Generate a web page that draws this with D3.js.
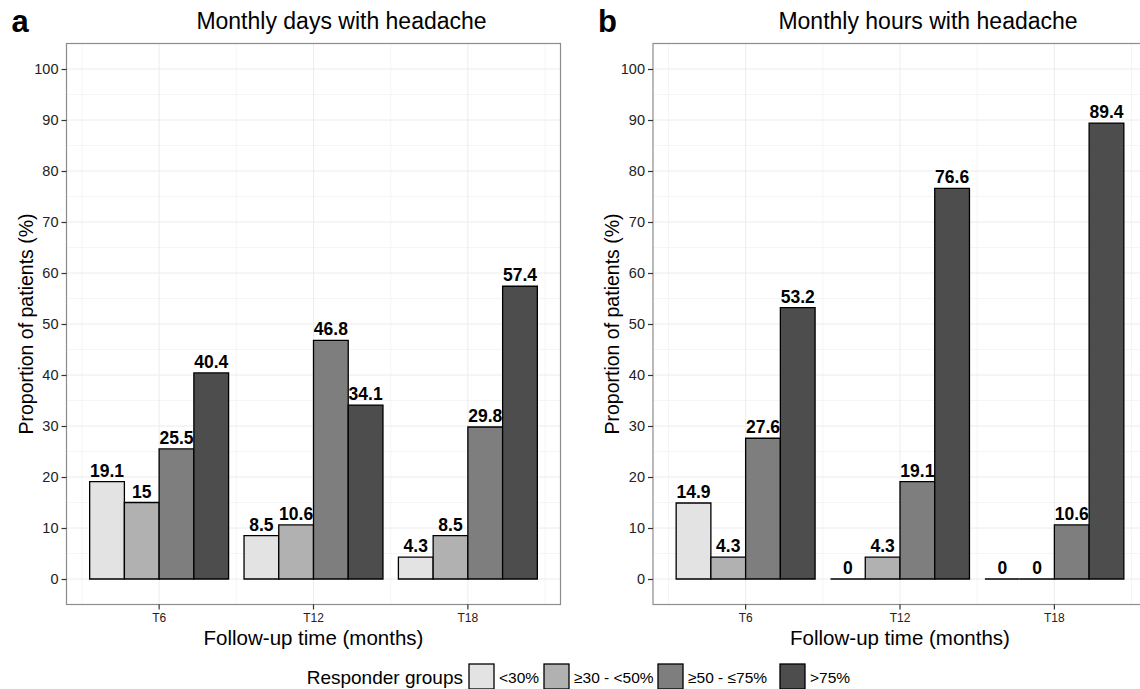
<!DOCTYPE html>
<html>
<head>
<meta charset="utf-8">
<script src="https://cdn.jsdelivr.net/npm/d3@7"></script>
<style>
  body { margin: 0; background: #fff; }
  svg { display: block; font-family: "Liberation Sans", Arial, Helvetica, sans-serif; }
</style>
</head>
<body>
<script>
(function(){

    //data
    var times = ["T6", "T12", "T18"];
    var groups = ["<30%", "≥30 - <50%", "≥50 - ≤75%", ">75%"];
    var daysValues = [
        [19.1, 15, 25.5, 40.4],
        [8.5, 10.6, 46.8, 34.1],
        [4.3, 8.5, 29.8, 57.4]
    ];
    var hoursValues = [
        [14.9, 4.3, 27.6, 53.2],
        [0, 4.3, 19.1, 76.6],
        [0, 0, 10.6, 89.4]
    ];
    var yTicks = [0, 10, 20, 30, 40, 50, 60, 70, 80, 90, 100];
    var yMinor = [5, 15, 25, 35, 45, 55, 65, 75, 85, 95];
    var groupColors = ["#e3e3e3", "#b1b1b1", "#7e7e7e", "#4d4d4d"];

    var width = 1140,
        height = 689;

    var svg = d3.select("body")
        .append("svg")
        .attr("width", width)
        .attr("height", height);

    var panelTop = 43.5,
        panelBottom = 604.5,
        panelWidth = 494;

    //shared y scale, ggplot style expansion of 5 on each side
    var y = d3.scaleLinear()
        .domain([-5, 105])
        .range([panelBottom, panelTop]);

    var color = d3.scaleOrdinal()
        .domain(groups)
        .range(groupColors);

    drawPanel(66.5, "a", "Monthly days with headache", daysValues);
    drawPanel(653, "b", "Monthly hours with headache", hoursValues);
    drawLegend();

    function drawPanel(left, letter, title, values){
        var g = svg.append("g");

        var x = d3.scaleBand()
            .domain(times)
            .range([left, left + panelWidth])
            .paddingInner(0.1)
            .paddingOuter(0.15);

        var xInner = d3.scaleBand()
            .domain(groups)
            .range([0, x.bandwidth()]);

        var step = x.step();

        //background grid, minor first
        g.selectAll(".hMinor")
            .data(yMinor)
            .enter().append("line")
            .attr("x1", left).attr("x2", left + panelWidth)
            .attr("y1", function(d){ return y(d); })
            .attr("y2", function(d){ return y(d); })
            .attr("stroke", "#f5f5f5").attr("stroke-width", 1);

        var vMinor = [x(times[0]) + x.bandwidth() / 2 - step / 2];
        times.forEach(function(t){ vMinor.push(x(t) + x.bandwidth() / 2 + step / 2); });
        g.selectAll(".vMinor")
            .data(vMinor)
            .enter().append("line")
            .attr("x1", function(d){ return d; }).attr("x2", function(d){ return d; })
            .attr("y1", panelTop).attr("y2", panelBottom)
            .attr("stroke", "#f5f5f5").attr("stroke-width", 1);

        g.selectAll(".hMajor")
            .data(yTicks)
            .enter().append("line")
            .attr("x1", left).attr("x2", left + panelWidth)
            .attr("y1", function(d){ return y(d); })
            .attr("y2", function(d){ return y(d); })
            .attr("stroke", "#ececec").attr("stroke-width", 1);

        g.selectAll(".vMajor")
            .data(times)
            .enter().append("line")
            .attr("x1", function(d){ return x(d) + x.bandwidth() / 2; })
            .attr("x2", function(d){ return x(d) + x.bandwidth() / 2; })
            .attr("y1", panelTop).attr("y2", panelBottom)
            .attr("stroke", "#ececec").attr("stroke-width", 1);

        //bars, drawn as paths so a zero value still shows its outline
        var groupsSel = g.selectAll(".timeGroup")
            .data(times)
            .enter().append("g")
            .attr("transform", function(d){ return "translate(" + x(d) + ",0)"; });

        function cells(d, i){
            return values[i].map(function(v, j){ return {group: groups[j], value: v}; });
        }

        groupsSel.selectAll("path")
            .data(cells)
            .enter().append("path")
            .attr("d", function(d){
                var x0 = xInner(d.group),
                    x1 = x0 + xInner.bandwidth(),
                    y0 = y(0),
                    y1 = y(d.value);
                return "M" + x0 + "," + y0 + "L" + x0 + "," + y1 + "L" + x1 + "," + y1 + "L" + x1 + "," + y0 + "Z";
            })
            .attr("fill", function(d){ return color(d.group); })
            .attr("stroke", "#000")
            .attr("stroke-width", 1.3);

        groupsSel.selectAll("text")
            .data(cells)
            .enter().append("text")
            .attr("x", function(d){ return xInner(d.group) + xInner.bandwidth() / 2; })
            .attr("y", function(d){ return y(d.value) - 5; })
            .attr("text-anchor", "middle")
            .attr("font-size", 17.5)
            .attr("font-weight", "bold")
            .attr("fill", "#000")
            .text(function(d){ return d.value; });

        //panel border
        g.append("rect")
            .attr("x", left).attr("y", panelTop)
            .attr("width", panelWidth).attr("height", panelBottom - panelTop)
            .attr("fill", "none")
            .attr("stroke", "#8c8c8c")
            .attr("stroke-width", 1.2);

        //axes
        var yAxis = d3.axisLeft(y)
            .tickValues(yTicks)
            .tickSize(5)
            .tickPadding(3);
        var ya = g.append("g")
            .attr("transform", "translate(" + left + ",0)")
            .call(yAxis);
        ya.select(".domain").remove();
        ya.selectAll("line").attr("stroke", "#333").attr("stroke-width", 1.2);
        ya.selectAll("text").attr("font-size", 14.5).attr("fill", "#222")
            .attr("font-family", "Liberation Sans, Arial, sans-serif");

        var xAxis = d3.axisBottom(x)
            .tickSize(5)
            .tickPadding(4);
        var xa = g.append("g")
            .attr("transform", "translate(0," + panelBottom + ")")
            .call(xAxis);
        xa.select(".domain").remove();
        xa.selectAll("line").attr("stroke", "#333").attr("stroke-width", 1.2);
        xa.selectAll("text").attr("font-size", 12).attr("fill", "#222")
            .attr("font-family", "Liberation Sans, Arial, sans-serif");

        //titles (centred a little right of the panel, as in the figure)
        g.append("text")
            .attr("x", left + panelWidth / 2 + 28)
            .attr("y", 29)
            .attr("text-anchor", "middle")
            .attr("font-size", 23)
            .attr("fill", "#000")
            .text(title);

        g.append("text")
            .attr("x", left - 55)
            .attr("y", 32)
            .attr("font-size", 31)
            .attr("font-weight", "bold")
            .attr("fill", "#000")
            .text(letter);

        g.append("text")
            .attr("x", left + panelWidth / 2)
            .attr("y", 645)
            .attr("text-anchor", "middle")
            .attr("font-size", 20.5)
            .attr("fill", "#000")
            .text("Follow-up time (months)");

        g.append("text")
            .attr("transform", "translate(" + (left - 34) + "," + ((panelTop + panelBottom) / 2) + ") rotate(-90)")
            .attr("text-anchor", "middle")
            .attr("font-size", 19.5)
            .attr("fill", "#000")
            .text("Proportion of patients (%)");
    }

    function drawLegend(){
        var lg = svg.append("g");
        var keyX = [469, 544, 658, 780];

        lg.append("text")
            .attr("x", 463)
            .attr("y", 684)
            .attr("text-anchor", "end")
            .attr("font-size", 19)
            .attr("fill", "#000")
            .text("Responder groups");

        var keys = lg.selectAll(".key")
            .data(groups)
            .enter().append("g")
            .attr("transform", function(d, i){ return "translate(" + keyX[i] + ",664)"; });

        keys.append("rect")
            .attr("width", 25)
            .attr("height", 25)
            .attr("fill", function(d){ return color(d); })
            .attr("stroke", "#000")
            .attr("stroke-width", 1.3);

        keys.append("text")
            .attr("x", 30)
            .attr("y", 18.5)
            .attr("font-size", 15.5)
            .attr("fill", "#000")
            .text(function(d){ return d; });
    }

})();
</script>
</body>
</html>
